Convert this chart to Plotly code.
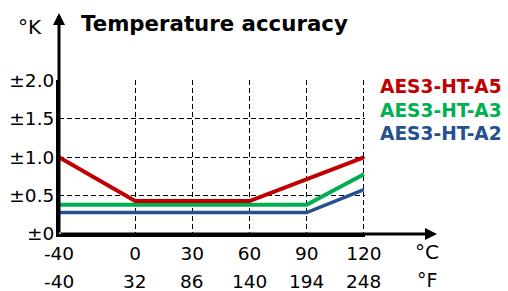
import plotly.graph_objects as go

# Data
temp_c = [-40, 0, 60, 90, 120]
a5 = [1.0, 0.43, 0.43, 0.71, 1.0]
a3 = [0.38, 0.38, 0.38, 0.38, 0.78]
a2 = [0.28, 0.28, 0.28, 0.28, 0.58]

x_ticks_c = [-40, 0, 30, 60, 90, 120]
x_ticks_f = ["-40", "32", "86", "140", "194", "248"]
y_ticks = [0, 0.5, 1.0, 1.5, 2.0]
y_tick_text = ["±0", "±0.5", "±1.0", "±1.5", "±2.0"]

series = [
    ("AES3-HT-A2", a2, "#27508F", 3.5),
    ("AES3-HT-A3", a3, "#00B050", 4),
    ("AES3-HT-A5", a5, "#C00000", 4),
]

FONT = "DejaVu Sans"
TICK = 18.5
fig = go.Figure()
for name, vals, color, w in series:
    fig.add_trace(go.Scatter(x=temp_c, y=vals, mode="lines", name=name,
                             line=dict(color=color, width=w), showlegend=False,
                             hoverinfo="skip"))

W, H = 508, 291
L, R, T, B = 59, 143, 80, 57
pw, ph = W - L - R, H - T - B

def px_x(p):
    return (p - L) / pw

def px_y(p):
    return (H - B - p) / ph

fig.update_layout(
    width=W, height=H,
    margin=dict(l=L, r=R, t=T, b=B, autoexpand=False),
    paper_bgcolor="white", plot_bgcolor="white",
    font=dict(family=FONT, size=TICK, color="black"),
    xaxis=dict(range=[-40, 120.6], tickmode="array", tickvals=x_ticks_c,
               ticktext=[str(v) for v in x_ticks_c], automargin=False,
               showgrid=True, gridcolor="black", gridwidth=1, griddash="5px,3px",
               zeroline=False, showline=True, linecolor="black", linewidth=3,
               ticks="", ticklabelstandoff=1, tickfont=dict(size=TICK)),
    yaxis=dict(range=[0, 2.008], tickmode="array", tickvals=y_ticks, ticktext=y_tick_text,
               automargin=False,
               showgrid=True, gridcolor="black", gridwidth=1, griddash="5px,3px",
               zeroline=False, showline=True, linecolor="black", linewidth=3,
               ticks="", ticklabelstandoff=-2, tickfont=dict(size=TICK)),
)

ann = []
# axis arrows
ann.append(dict(x=0, y=px_y(13), xref="paper", yref="paper", text="", showarrow=True,
                ax=0, ay=221, axref="pixel", ayref="pixel", arrowhead=2, arrowsize=0.8,
                arrowwidth=3, arrowcolor="black", standoff=0))
ann.append(dict(x=px_x(437), y=0, xref="paper", yref="paper", text="", showarrow=True,
                ax=-378, ay=0, arrowhead=2, arrowsize=0.8,
                arrowwidth=3, arrowcolor="black", standoff=0))
# °F row
for xv, t in zip(x_ticks_c, x_ticks_f):
    ann.append(dict(x=xv, y=px_y(281), xref="x", yref="paper", text=t, showarrow=False,
                    xanchor="center", yanchor="middle", font=dict(size=TICK)))
ann.append(dict(x=px_x(427), y=px_y(252), xref="paper", yref="paper", text="°C",
                showarrow=False, xanchor="center", yanchor="middle", font=dict(size=20)))
ann.append(dict(x=px_x(427), y=px_y(280), xref="paper", yref="paper", text="°F",
                showarrow=False, xanchor="center", yanchor="middle", font=dict(size=19)))
ann.append(dict(x=px_x(30), y=px_y(27), xref="paper", yref="paper", text="°K",
                showarrow=False, xanchor="center", yanchor="middle", font=dict(size=20)))
ann.append(dict(x=px_x(79), y=px_y(23), xref="paper", yref="paper",
                text="<b>Temperature accuracy</b>", showarrow=False,
                xanchor="left", yanchor="middle", font=dict(size=21.3)))
# legend labels
for (name, vals, color, w), yc in zip(series[::-1], [86.5, 110, 133.5]):
    ann.append(dict(x=px_x(378), y=px_y(yc), xref="paper", yref="paper",
                    text="<b>%s</b>" % name, showarrow=False, xanchor="left",
                    yanchor="middle", font=dict(size=18.6, color=color)))
fig.update_layout(annotations=ann)

fig.write_html("out.html", config={"displayModeBar": False},
               post_script="document.body.style.margin='0';")
